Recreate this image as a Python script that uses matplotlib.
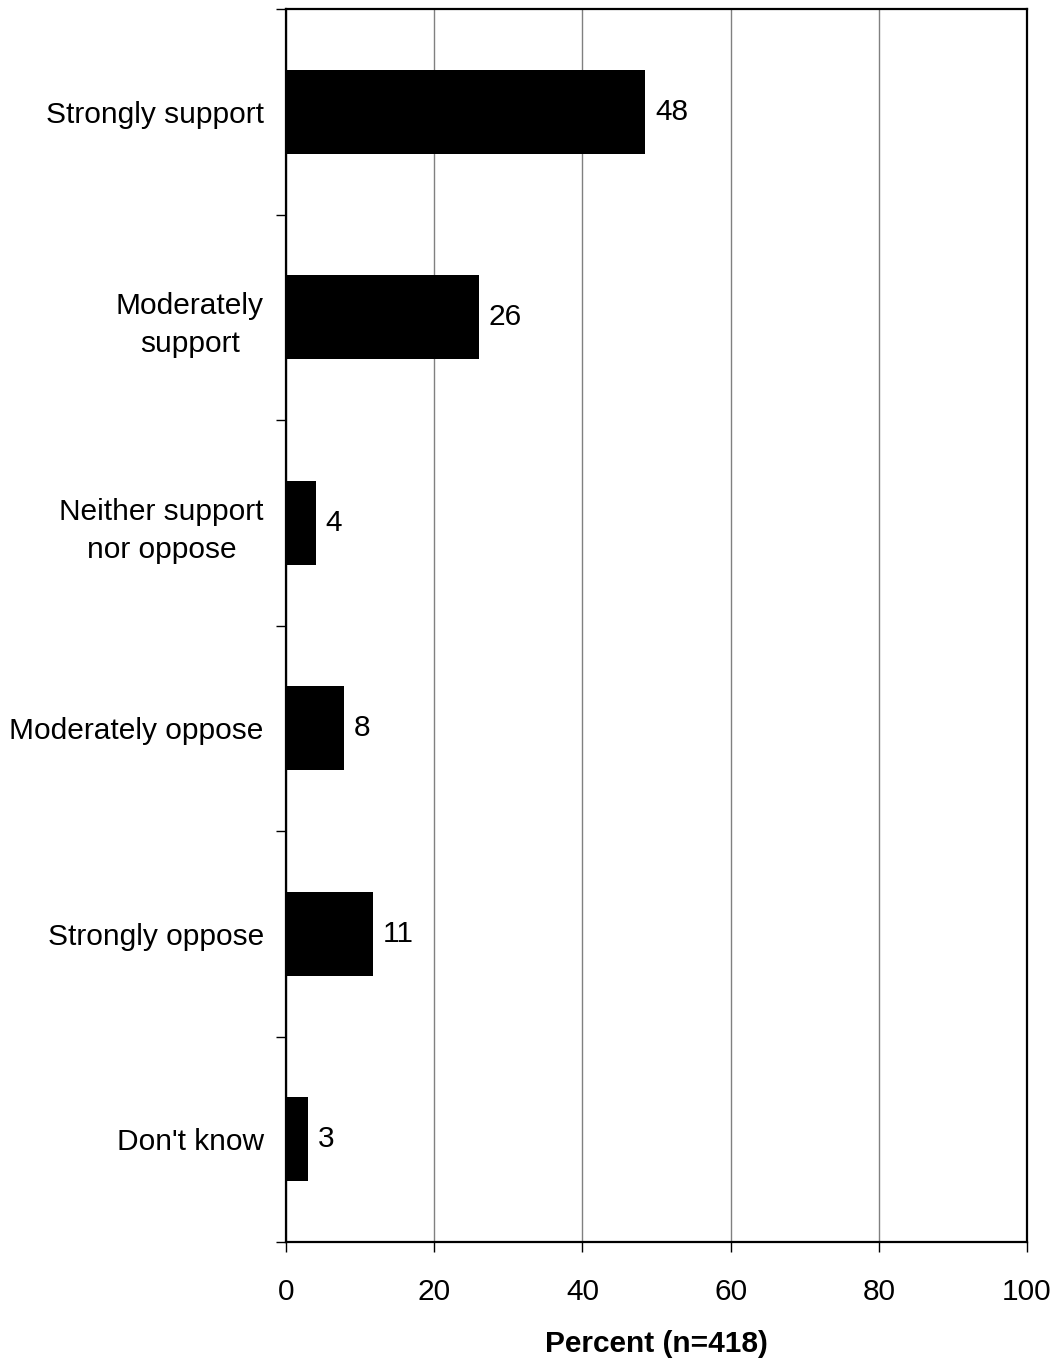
import matplotlib
matplotlib.use("Agg")
import matplotlib.pyplot as plt
import numpy as np
from matplotlib.ticker import FixedLocator

plt.rcParams['font.family'] = ['Liberation Sans', 'DejaVu Sans']

categories = ["Strongly support", "Moderately\nsupport", "Neither support\nnor oppose",
              "Moderately oppose", "Strongly oppose", "Don't know"]
values = [48.5, 26.0, 4.0, 7.8, 11.7, 3.0]
value_labels = ["48", "26", "4", "8", "11", "3"]
xticks = [0, 20, 40, 60, 80, 100]
xlabel = "Percent (n=418)"

FS = 21.5

fig = plt.figure(figsize=(10.58, 13.63), dpi=100)
ax = fig.add_axes([286/1058, 1 - 1242/1363, (1027-286)/1058, (1242-9)/1363])

y = np.arange(len(categories))
ax.barh(y, values, height=0.41, color='black', zorder=3)
for yi, v, lab in zip(y, values, value_labels):
    ax.annotate(lab, (v, yi), xytext=(7, 0), textcoords='offset points',
                va='center', ha='left', fontsize=FS)

ax.set_xlim(0, 100)
ax.set_ylim(len(categories) - 0.5, -0.5)
ax.set_xticks(xticks)
ax.set_xticklabels([str(t) for t in xticks], fontsize=FS)
ax.xaxis.grid(True, color='#808080', linewidth=1.0, zorder=0)
ax.set_axisbelow(True)

ax.set_yticks(y)
ax.set_yticklabels(categories, fontsize=FS, multialignment='center', linespacing=1.45)
ax.yaxis.set_minor_locator(FixedLocator(np.arange(-0.5, len(categories))))
ax.tick_params(axis='y', which='major', length=0, pad=16)
ax.tick_params(axis='y', which='minor', length=7, width=1.0, direction='out')
ax.tick_params(axis='x', which='major', length=7, width=1.0, direction='out', pad=19)

for s in ax.spines.values():
    s.set_linewidth(1.6)
    s.set_color('black')

ax.set_xlabel(xlabel, fontsize=FS, fontweight='bold', labelpad=17)

fig.savefig("out.png", dpi=100)
